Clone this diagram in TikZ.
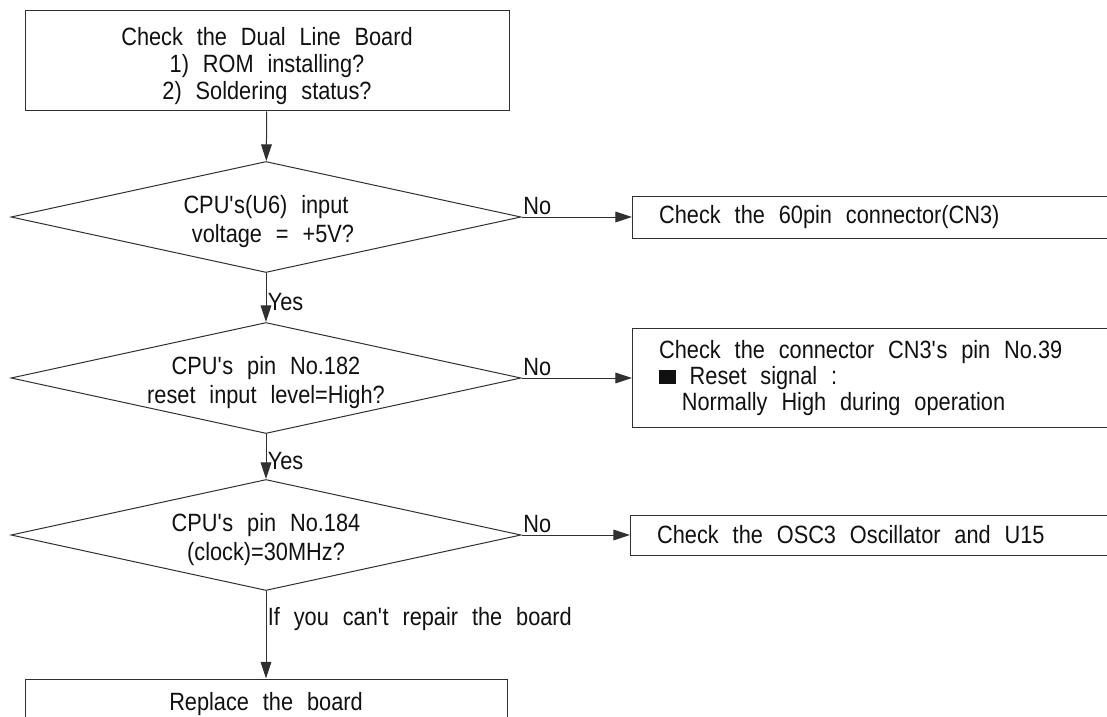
\documentclass[tikz,border=0pt]{standalone}
\usepackage{fontspec}
\setmainfont{Liberation Sans}[FakeStretch=0.87,WordSpace=2.3]
\usetikzlibrary{arrows.meta, shapes.geometric}
\definecolor{flowLine}{HTML}{303030}
\definecolor{flowText}{HTML}{111111}
\newcommand{\apos}{\textquotesingle}
\newcommand{\topstrut}{\rule{0pt}{21pt}}
\tikzset{
  flowfig/.style={
    x=0.75pt, y=-0.75pt,
    every node/.append style={font=\fontsize{18.75}{19.5}\selectfont, text=flowText},
    >={Triangle[length=12.5pt,width=8pt]},
  },
  stepbox/.style={draw=flowLine, line width=0.75pt, align=center, inner sep=0pt},
  checkbox/.style={stepbox, anchor=west, align=left, text width=480pt, inner xsep=20pt,
    execute at begin node={\spaceskip=\fontdimen2\font plus \fontdimen3\font minus \fontdimen4\font\relax}},
  % Entscheidungen: flache Rauten, alle gleich gross.
  decision/.style={diamond, draw=flowLine, line width=0.75pt, align=center, inner sep=-3pt,
    aspect=4.6, minimum width=382.5pt, minimum height=83.25pt,
    font=\fontsize{18.75}{21.75}\selectfont},
  flow/.style={draw=flowLine, line width=0.75pt, ->},
  answer/.style={inner sep=1pt},
}
\begin{document}
\begin{tikzpicture}[flowfig]
  \useasboundingbox (0,0) rectangle (1107,717);
  \clip (0,0) rectangle (1107,717);
  \node[stepbox, minimum width=363pt, minimum height=75pt, font=\fontsize{18.75}{20.25}\selectfont]
    (dualboard) at (267,61) {\topstrut Check the Dual Line Board\\1) ROM installing?\\2) Soldering status?};
  \node[decision] (cpuvolt) at (266,217) {\topstrut CPU\apos s(U6) input\\\ voltage = +5V?};
  \node[decision] (cpureset) at (266,378) {\topstrut CPU\apos s pin No.182\\reset input level=High?};
  \node[decision] (cpuclock) at (266,535) {\topstrut CPU\apos s pin No.184\\(clock)=30MHz?};
  \node[stepbox, minimum width=361.5pt, minimum height=37.5pt] (replace) at (266,704) {Replace the board};
  \node[checkbox, minimum height=31.5pt] (chkconn) at (632,217) {Check the 60pin connector(CN3)};
  \node[checkbox, minimum height=74.25pt] (chkreset) at (632,378)
    {Check the connector CN3\apos s pin No.39\\\rule{12.5pt}{10.5pt} Reset signal :\\\hspace*{17pt}Normally High during operation};
  \node[checkbox, minimum height=30pt] (chkosc) at (630,535) {Check the OSC3 Oscillator and U15};
  \draw[flow] (dualboard) -- (cpuvolt);
  \draw[flow] (cpuvolt) -- node[answer, anchor=west, pos=0.6] {Yes} (cpureset);
  \draw[flow] (cpureset) -- node[answer, anchor=west, pos=0.6] {Yes} (cpuclock);
  \draw[flow] (cpuclock) -- node[answer, anchor=west, pos=0.32] {If you can\apos t repair the board} (replace);
  \draw[flow] (cpuvolt.east) -- node[answer, anchor=south west, pos=0] {No} (chkconn.west);
  \draw[flow] (cpureset.east) -- node[answer, anchor=south west, pos=0] {No} (chkreset.west);
  \draw[flow] (cpuclock.east) -- node[answer, anchor=south west, pos=0] {No} (chkosc.west);
\end{tikzpicture}
\end{document}
